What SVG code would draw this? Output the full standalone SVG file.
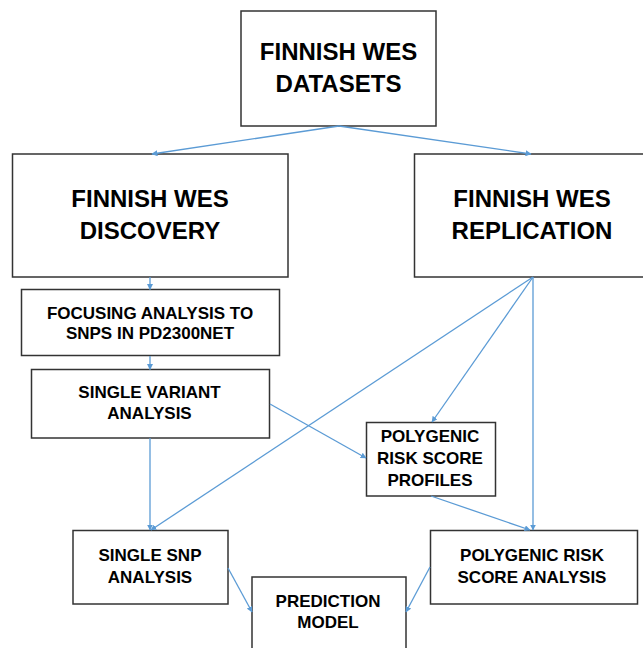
<svg xmlns="http://www.w3.org/2000/svg" width="643" height="648" viewBox="0 0 643 648">
<defs>
<style>
.box{fill:#fff;stroke:#333;stroke-width:1.5}
.big{font-family:"Liberation Sans",Arial,sans-serif;font-weight:bold;font-size:24px;fill:#000;text-anchor:middle}
.sm{font-family:"Liberation Sans",Arial,sans-serif;font-weight:bold;font-size:17px;fill:#000;text-anchor:middle}
.c{fill:none;stroke:#5B9BD5;stroke-width:1.3;marker-end:url(#ah)}
</style>
<marker id="ah" viewBox="0 0 10 10" refX="9" refY="5" markerWidth="6" markerHeight="6" markerUnits="userSpaceOnUse" orient="auto">
<path d="M0,0 L10,5 L0,10 z" fill="#5B9BD5"/>
</marker>
</defs>
<rect width="643" height="648" fill="#fff"/>
<g id="n-datasets"><rect class="box" x="241" y="11" width="195" height="115"/><text class="big" x="338.5" y="60">FINNISH WES</text><text class="big" x="338.5" y="92">DATASETS</text></g>
<g id="n-discovery"><rect class="box" x="12.5" y="154" width="275.5" height="123"/><text class="big" x="150" y="207">FINNISH WES</text><text class="big" x="150" y="239">DISCOVERY</text></g>
<g id="n-replication"><rect class="box" x="414.5" y="154" width="232" height="123"/><text class="big" x="532" y="207">FINNISH WES</text><text class="big" x="532" y="239">REPLICATION</text></g>
<g id="n-focusing"><rect class="box" x="21.5" y="289.5" width="258" height="66"/><text class="sm" x="150" y="319">FOCUSING ANALYSIS TO</text><text class="sm" x="150" y="339">SNPS IN PD2300NET</text></g>
<g id="n-single-variant"><rect class="box" x="31.5" y="369.5" width="238" height="68.5"/><text class="sm" x="149.5" y="398">SINGLE VARIANT</text><text class="sm" x="149.5" y="419">ANALYSIS</text></g>
<g id="n-profiles"><rect class="box" x="366.5" y="422.5" width="129" height="73.5"/><text class="sm" x="430" y="442">POLYGENIC</text><text class="sm" x="430" y="464">RISK SCORE</text><text class="sm" x="430" y="486">PROFILES</text></g>
<g id="n-single-snp"><rect class="box" x="73" y="530.5" width="155" height="73.5"/><text class="sm" x="150" y="560.5">SINGLE SNP</text><text class="sm" x="150" y="582.5">ANALYSIS</text></g>
<g id="n-prs-analysis"><rect class="box" x="430.5" y="530.5" width="207" height="73.5"/><text class="sm" x="532" y="560.5">POLYGENIC RISK</text><text class="sm" x="532" y="582.5">SCORE ANALYSIS</text></g>
<g id="n-prediction"><rect class="box" x="252" y="577" width="154" height="80"/><text class="sm" x="328" y="606.5">PREDICTION</text><text class="sm" x="328" y="628">MODEL</text></g>
<g id="connectors">
<line class="c" x1="339" y1="126" x2="152" y2="154"/>
<line class="c" x1="339" y1="126" x2="531" y2="154"/>
<line class="c" x1="150" y1="277" x2="150" y2="289.5"/>
<line class="c" x1="150" y1="356" x2="150" y2="369.5"/>
<line class="c" x1="270" y1="404" x2="366" y2="458"/>
<line class="c" x1="150" y1="438" x2="150" y2="530"/>
<line class="c" x1="533" y1="277" x2="151" y2="530"/>
<line class="c" x1="533" y1="277" x2="432" y2="422"/>
<line class="c" x1="533" y1="277" x2="533" y2="530"/>
<line class="c" x1="431" y1="496" x2="530" y2="530"/>
<line class="c" x1="228" y1="568" x2="252" y2="612"/>
<line class="c" x1="430" y1="567" x2="406" y2="612"/>
</g>
</svg>
